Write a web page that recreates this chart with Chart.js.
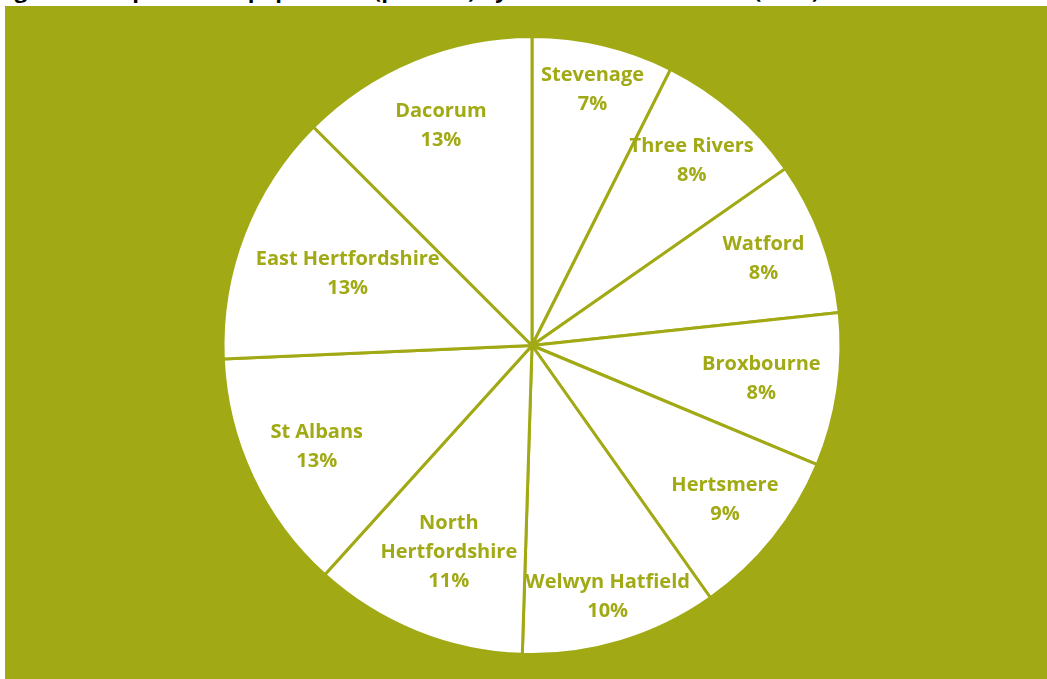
<!DOCTYPE html>
<html>
<head>
<meta charset="utf-8">
<script src="https://cdn.jsdelivr.net/npm/chart.js@4"></script>
<style>
  html, body { margin: 0; padding: 0; background: #fff; overflow: hidden; }
  body { width: 1047px; height: 679px; position: relative; }
  #title {
    position: absolute; left: -4px; top: -22px; white-space: nowrap;
    font: bold 22px "Open Sans", sans-serif; line-height: 22px; color: #000;
  }
  #panel {
    position: absolute; left: 5px; top: 6px; width: 1042px; height: 674px;
    background: #a1aa14;
  }
  #pieChart { display: block; }
</style>
</head>
<body>
<div id="title">Figure 3: Proportion of population (persons) by Hertfordshire district (2011)</div>
<div id="panel"><canvas id="pieChart" width="1042" height="673"></canvas></div>
<script>
const districts = ["Stevenage", "Three Rivers", "Watford", "Broxbourne", "Hertsmere",
  "Welwyn Hatfield", ["North", "Hertfordshire"], "St Albans", "East Hertfordshire", "Dacorum"];
const shares = [7.4, 7.9, 8.0, 8.0, 8.9, 10.3, 11.2, 12.6, 13.2, 12.5];

const green = "#a1aa14";
// how far out each label sits, as a fraction of the radius
const labelDist = [0.85, 0.79, 0.80, 0.75, 0.80, 0.85, 0.72, 0.77, 0.64, 0.77];

// writes name + rounded percent inside each slice
const sliceLabels = {
  id: "sliceLabels",
  afterDatasetsDraw(chart) {
    const ctx = chart.ctx;
    const arcs = chart.getDatasetMeta(0).data;
    const total = shares.reduce((a, b) => a + b, 0);
    ctx.save();
    ctx.fillStyle = green;
    ctx.font = "bold 20px 'Open Sans', sans-serif";
    ctx.textAlign = "center";
    ctx.textBaseline = "middle";
    arcs.forEach((arc, i) => {
      const mid = (arc.startAngle + arc.endAngle) / 2;
      const r = arc.outerRadius * labelDist[i];
      const x = arc.x + Math.cos(mid) * r;
      const y = arc.y + Math.sin(mid) * r;
      const name = districts[i];
      const lines = (Array.isArray(name) ? name : [name]).concat(Math.round(shares[i] / total * 100) + "%");
      const lh = 29;
      lines.forEach((t, k) => {
        ctx.fillText(t, x, y + (k - (lines.length - 1) / 2) * lh);
      });
    });
    ctx.restore();
  }
};

new Chart(document.getElementById("pieChart"), {
  type: "pie",
  data: {
    labels: districts,
    datasets: [{
      data: shares,
      backgroundColor: "#ffffff",
      borderColor: green,
      borderWidth: 3
    }]
  },
  options: {
    responsive: false,
    animation: false,
    events: [],
    layout: { padding: { left: 215, right: 203, top: 29, bottom: 23 } },
    plugins: {
      legend: { display: false },
      tooltip: { enabled: false }
    }
  },
  plugins: [sliceLabels]
});
</script>
</body>
</html>
